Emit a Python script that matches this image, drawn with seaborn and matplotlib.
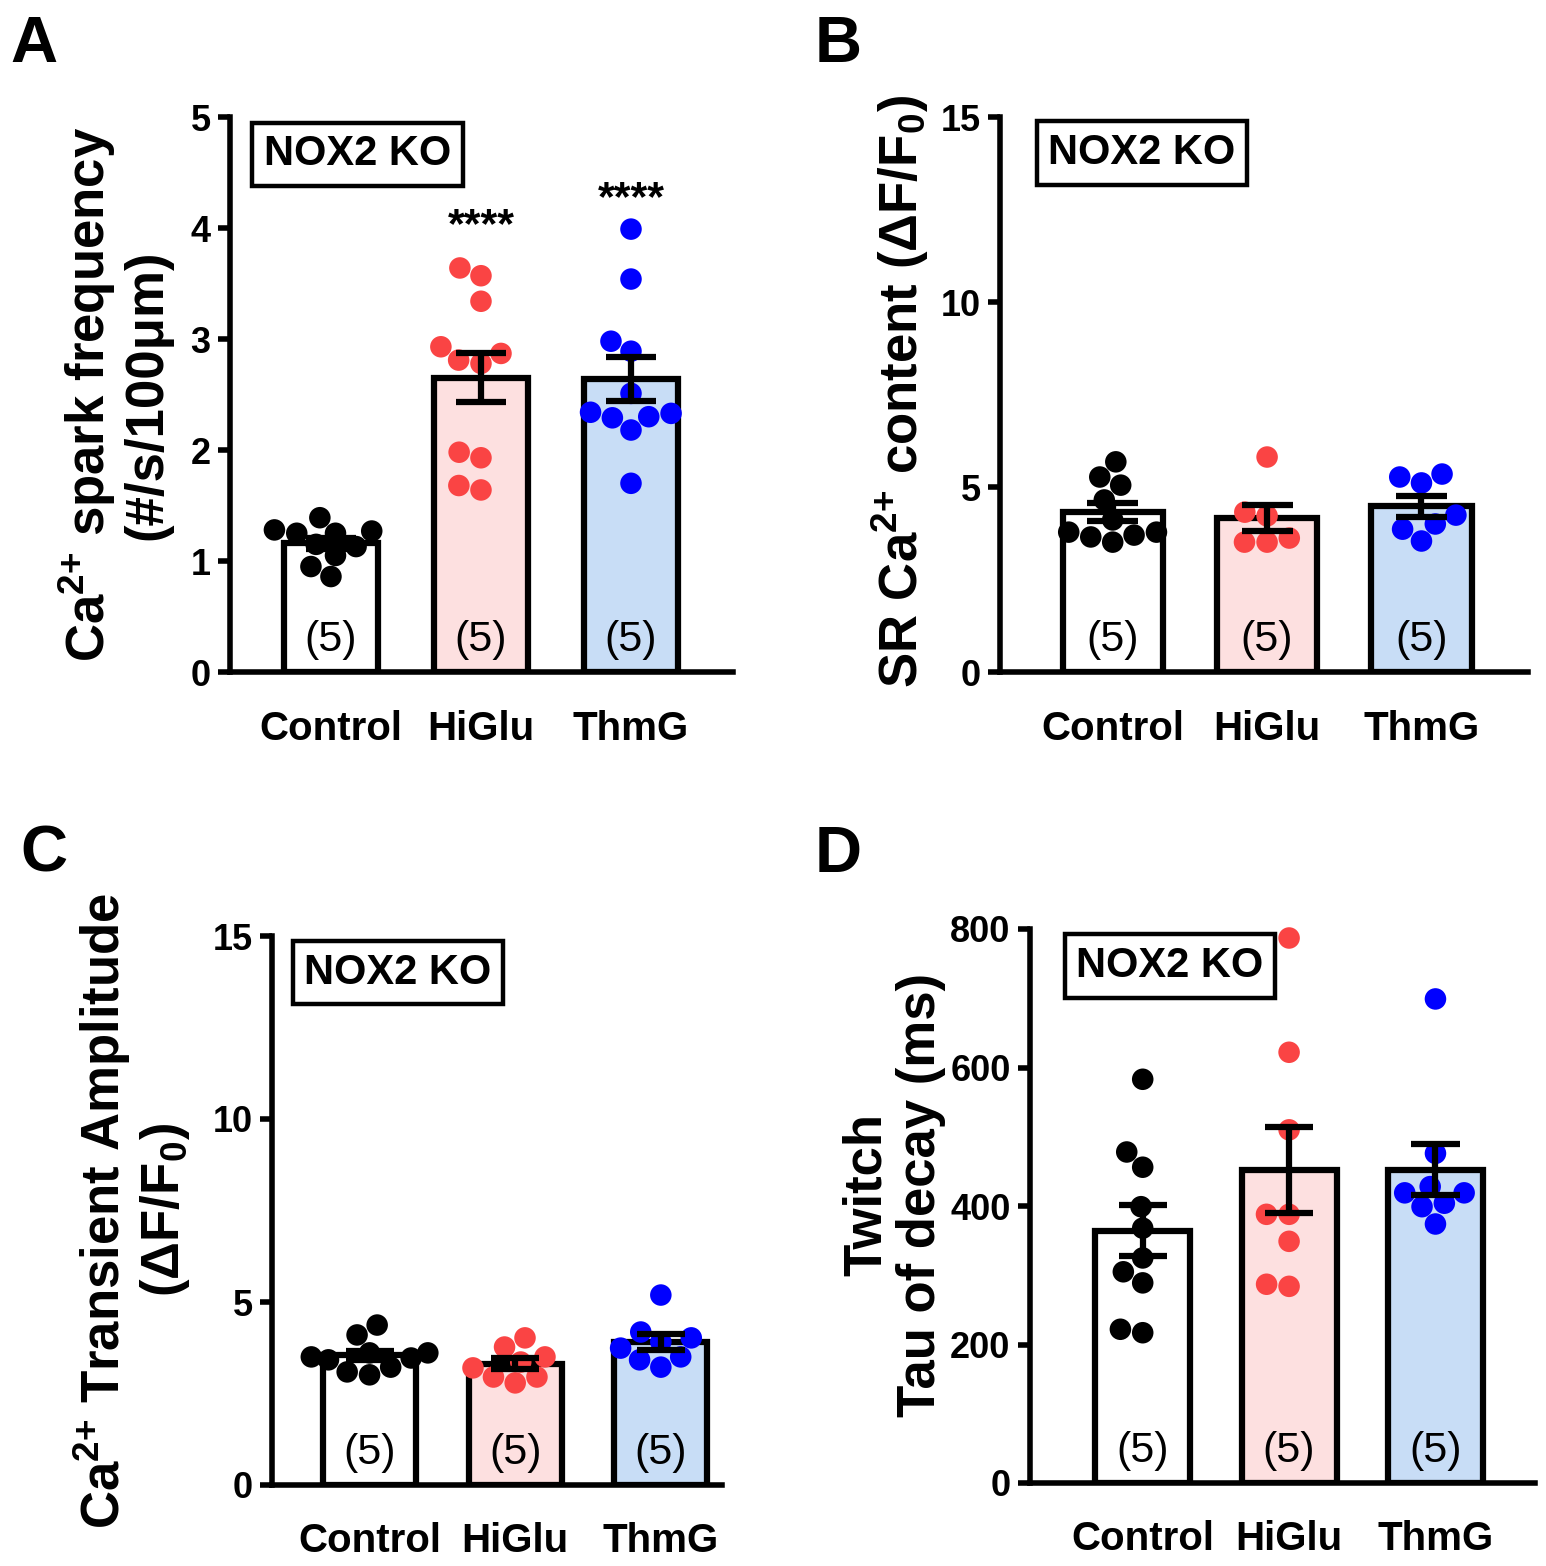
import warnings
import numpy as np
import pandas as pd
import matplotlib
matplotlib.use("Agg")
import matplotlib.pyplot as plt
import matplotlib.transforms as mtransforms
import seaborn as sns

warnings.filterwarnings("ignore")

groups = ["Control", "HiGlu", "ThmG"]
n_animals = ["(5)", "(5)", "(5)"]

# A: Ca2+ spark frequency (#/s/100um)
spark_control = [1.28, 1.25, 1.27, 1.25, 1.39, 1.15, 1.13, 1.05, 0.95, 0.86]
spark_higlu = [3.57, 3.64, 3.34, 2.87, 2.93, 2.78, 2.81, 1.93, 1.98, 1.64, 1.68]
spark_thmg = [3.99, 3.54, 2.98, 2.89, 2.51, 2.33, 2.30, 2.29, 2.34, 2.18, 1.70]
spark_sig = ["", "****", "****"]

# B: SR Ca2+ content (dF/F0)
sr_control = [5.68, 5.27, 5.05, 4.65, 3.65, 3.78, 3.70, 3.78, 4.11, 3.51]
sr_higlu = [5.81, 4.32, 4.22, 3.51, 3.62, 3.51]
sr_thmg = [5.27, 5.35, 5.11, 4.24, 4.00, 3.86, 3.54]

# C: Ca2+ transient amplitude (dF/F0)
amp_control = [4.10, 4.37, 3.61, 3.47, 3.61, 3.50, 3.42, 3.22, 3.01, 3.09]
amp_higlu = [3.77, 4.02, 3.36, 3.50, 2.95, 2.95, 3.20, 2.79]
amp_thmg = [5.19, 4.18, 3.91, 4.02, 3.74, 3.42, 3.50, 3.22]

# D: twitch tau of decay (ms)
tau_control = [583, 478, 456, 399, 368, 325, 305, 289, 217, 222]
tau_higlu = [787, 622, 510, 388, 388, 349, 284, 287]
tau_thmg = [699, 476, 428, 419, 404, 399, 419, 374]

bar_fills = ["#ffffff", "#fde0e0", "#c8ddf6"]
point_colors = ["#000000", "#fa4444", "#0000ff"]

sns.set_style("ticks")
plt.rcParams["font.family"] = ["Liberation Sans", "DejaVu Sans"]
plt.rcParams["font.weight"] = "bold"
plt.rcParams["axes.labelweight"] = "bold"
plt.rcParams["mathtext.fontset"] = "custom"
plt.rcParams["mathtext.rm"] = "Liberation Sans:bold"
plt.rcParams["mathtext.bf"] = "Liberation Sans:bold"
plt.rcParams["mathtext.it"] = "Liberation Sans:bold"
for key in ["text.color", "axes.labelcolor", "xtick.color", "ytick.color", "axes.edgecolor"]:
    plt.rcParams[key] = "black"

W, H = 1546, 1566
fig = plt.figure(figsize=(W / 100, H / 100), dpi=100)


def px_axes(left, top, right, bottom):
    return fig.add_axes([left / W, 1 - bottom / H, (right - left) / W, (bottom - top) / H])


def draw_panel(ax, values, ylim, yticks, bw, xlim, ylabel, label_x, label_y, box_xy, sig=None, sig_y=None):
    df = pd.DataFrame({
        "group": np.repeat(groups, [len(v) for v in values]),
        "value": np.concatenate(values),
    })
    sns.barplot(data=df, x="group", y="value", hue="group", order=groups, hue_order=groups,
                palette=bar_fills, saturation=1, errorbar="se", capsize=0.33, width=bw, dodge=False,
                edgecolor="black", linewidth=4.5, legend=False, ax=ax,
                err_kws={"color": "black", "linewidth": 4.5, "zorder": 4,
                         "solid_capstyle": "butt"})
    sns.swarmplot(data=df, x="group", y="value", hue="group", order=groups, hue_order=groups,
                  palette=point_colors, size=15.5, linewidth=0, legend=False, ax=ax,
                  zorder=3, clip_on=False)
    ax.set_xlim(*xlim)
    ax.set_ylim(*ylim)
    ax.set_yticks(yticks)
    ax.set_xlabel("")
    ax.set_ylabel(ylabel, fontsize=38, linespacing=1.12)
    ax.yaxis.label.set_va("center")
    ax.yaxis.set_label_coords(label_x, label_y)
    sns.despine(ax=ax)
    for s in ["left", "bottom"]:
        ax.spines[s].set_linewidth(4)
    ax.tick_params(axis="y", length=9, width=4, labelsize=26, pad=5)
    ax.tick_params(axis="x", length=0, labelsize=29, pad=27)
    trans = mtransforms.blended_transform_factory(ax.transData, ax.transAxes)
    for i, t in enumerate(n_animals):
        ax.text(i, 0.058, t, transform=trans, ha="center", va="center",
                fontsize=31, fontweight="normal", zorder=5)
    ax.text(box_xy[0], box_xy[1], "NOX2 KO", transform=ax.transAxes, ha="center", va="center",
            fontsize=30, fontweight="bold",
            bbox=dict(boxstyle="square,pad=0.28", fc="white", ec="black", lw=3.2))
    if sig is not None:
        for i, t in enumerate(sig):
            if t:
                ax.text(i, sig_y[i], t, ha="center", va="baseline", fontsize=31, fontweight="bold")


axA = px_axes(230, 117, 733, 672)
draw_panel(axA, [spark_control, spark_higlu, spark_thmg], (0, 5), [0, 1, 2, 3, 4, 5], 0.63,
           (-0.673, 2.68), "Ca$^{2{+}}$ spark frequency\n(#/s/100μm)", -0.229, 0.5,
           (0.254, 0.933), sig=spark_sig, sig_y=[0, 3.92, 4.16])

axB = px_axes(1000, 117, 1528, 672)
draw_panel(axB, [sr_control, sr_higlu, sr_thmg], (0, 15), [0, 5, 10, 15], 0.65,
           (-0.73, 2.69), "SR Ca$^{2{+}}$ content (ΔF/F$_0$)", -0.189, 0.505, (0.269, 0.935))

axC = px_axes(272, 936, 722, 1485)
draw_panel(axC, [amp_control, amp_higlu, amp_thmg], (0, 15), [0, 5, 10, 15], 0.64,
           (-0.67, 2.42), "Ca$^{2{+}}$ Transient Amplitude\n(ΔF/F$_0$)", -0.311, 0.5, (0.28, 0.933))

axD = px_axes(1030, 929, 1535, 1483)
draw_panel(axD, [tau_control, tau_higlu, tau_thmg], (0, 800), [0, 200, 400, 600, 800], 0.65,
           (-0.77, 2.68), "Twitch\nTau of decay (ms)", -0.269, 0.52, (0.277, 0.933))

for letter, x, y in [("A", 10, 62), ("B", 815, 62), ("C", 20, 872), ("D", 815, 872)]:
    fig.text(x / W, 1 - y / H, letter, ha="left", va="baseline", fontsize=47, fontweight="bold")

fig.savefig("out.png", dpi=100)
